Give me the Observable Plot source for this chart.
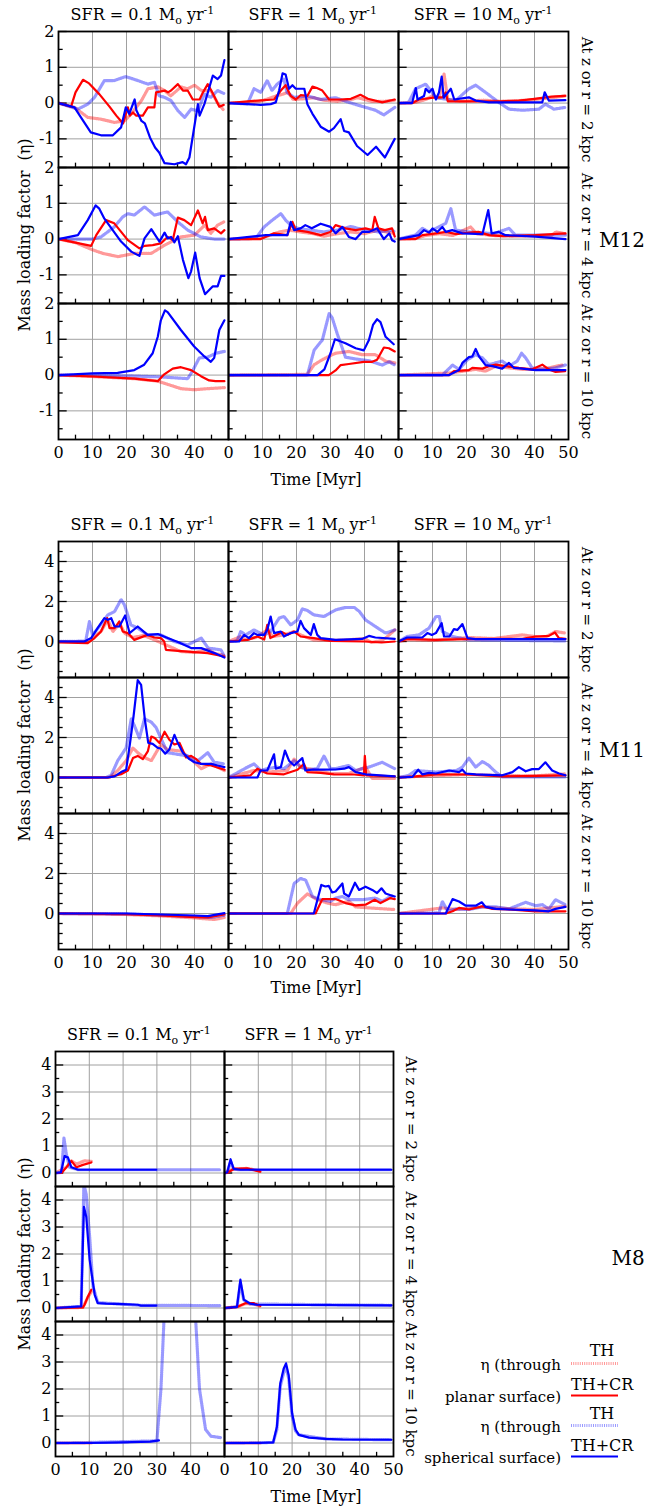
<!DOCTYPE html>
<html><head><meta charset="utf-8">
<script src="https://cdn.jsdelivr.net/npm/d3@7"></script>
<script src="https://cdn.jsdelivr.net/npm/@observablehq/plot@0.6"></script>
<style>
html,body{margin:0;padding:0;background:#fff;}
#chart{position:relative;width:670px;height:1509px;font-family:"DejaVu Serif",serif;color:#000;overflow:hidden;}
.abs{position:absolute;white-space:nowrap;font-size:16px;line-height:16px;transform:translate(-50%,-50%);}
.big{font-size:20px;line-height:20px;}
.ylab{transform:translate(-50%,-50%) rotate(-90deg);}
sub,sup{font-size:11px;line-height:0;}
</style>
</head><body><div id="chart"></div>
<script>
// ---------------- DATA ----------------
const SERIES = ["TH planar", "TH+CR planar", "TH spherical", "TH+CR spherical"];
const SFR_LABELS = ["0.1", "1", "10"];
const ROW_LABELS = ["At z or r = 2 kpc", "At z or r = 4 kpc", "At z or r = 10 kpc"];
const X_TICKS = [0, 10, 20, 30, 40];
const X_GRID = [10, 20, 30, 40];
const X_MINOR = [5, 15, 25, 35, 45];

// ===== M12 =====
const m12_r2_s01_thP = [[0,0],[4.7,-0.12],[8.6,-0.4],[12.5,-0.45],[16.4,-0.54],[19.4,-0.5],[21.4,-0.3],[24.4,0.07],[26.3,0.4],[29.3,0.45],[31.2,0.35],[33,0.2],[36,0.45],[38,0.4],[40,0.5],[42,0.35],[44.8,0.35],[46.8,0],[48.6,-0.2]];
const m12_r2_s01_crP = [[0,0],[3.7,-0.1],[5,0.3],[7.2,0.65],[9,0.55],[12,0.25],[15,-0.1],[17,-0.35],[19,-0.57],[20.4,-0.12],[21,-0.35],[21.9,-0.26],[22.8,-0.35],[24.8,-0.35],[26.3,-0.12],[28.2,-0.12],[28.7,0.3],[31.2,0.35],[32.2,0.3],[33.1,0.35],[35.1,0.53],[36.6,0.35],[38,0.35],[39.5,0.1],[41.5,0.1],[42.5,0.3],[43.9,0.53],[45.4,0.27],[47.3,-0.1],[48.6,-0.05]];
const m12_r2_s01_thS = [[0,0],[5.7,-0.17],[8.6,-0.03],[10.6,0.16],[13.5,0.63],[16.4,0.63],[19.8,0.74],[23.3,0.63],[26.3,0.53],[28.2,0.58],[29.6,0.2],[31.2,0.16],[33.1,0.07],[35.1,-0.21],[37.1,-0.4],[39,-0.17],[41,-0.22],[42.9,0.25],[44.8,0.16],[46.8,0.35],[48.6,0.27]];
const m12_r2_s01_crS = [[0,0],[4.7,-0.12],[6.6,-0.4],[9.5,-0.82],[12.5,-0.9],[16,-0.9],[18.4,-0.68],[19.8,-0.12],[20.8,-0.3],[22.4,0.1],[22.9,-0.2],[24.4,-0.5],[25.4,-0.57],[26.9,-0.96],[28.4,-1.24],[29.6,-1.38],[31.2,-1.68],[34.1,-1.71],[36.5,-1.65],[37.5,-1.71],[38.5,-1.52],[41,-0.03],[41.5,-0.35],[42.9,-0.03],[45.4,0.77],[46.8,0.67],[47.8,0.77],[48.8,1.2]];
const m12_r2_s1_thP = [[0,0],[8,0.02],[11,0.1],[14,0.2],[16,0.25],[17.5,0.3],[19,0.1],[22,0.12],[25,0.15],[28,0.08],[32,0.05],[36,0.1],[38,0.15],[42,0.05],[46,0.05],[48.9,0.08]];
const m12_r2_s1_crP = [[0,0],[5.6,0.05],[13.4,0.1],[15.4,0.35],[16.8,0.5],[18.3,0.2],[19.8,0.1],[21.2,0.22],[23.2,0.2],[24.7,0.46],[26,0.42],[27.6,0.35],[29.6,0.1],[33,0.1],[36,0.12],[38.8,0.23],[41,0.12],[45.2,0.02],[48.9,0.1]];
const m12_r2_s1_thS = [[0,0],[5.6,-0.02],[7.5,0.4],[9.5,0.3],[11.4,0.63],[12.8,0.35],[14.3,0.53],[16.3,0.67],[17.2,0.3],[19.3,0.16],[23.2,0.2],[27.1,0.1],[31.5,0.15],[35.4,0.02],[37.4,-0.04],[43.2,-0.2],[45.7,-0.33],[48.9,-0.12]];
const m12_r2_s1_crS = [[0,0],[9.5,-0.05],[12.4,-0.03],[13.9,0.02],[14.9,0.36],[15.9,0.83],[16.8,0.8],[17.8,0.4],[18.8,0.5],[19.8,0.4],[22.3,0.4],[23.2,-0.03],[24.7,-0.3],[27.1,-0.66],[29.6,-0.8],[31,-0.7],[33,-0.45],[34,-0.78],[35.4,-0.82],[37.8,-1.2],[40.9,-1.45],[43.4,-1.22],[46,-1.52],[48.9,-1.0]];
const m12_r2_s10_thP = [[0,0],[5,0.02],[8,0.1],[10,0.2],[12,0.15],[13.4,0.81],[14.5,0.1],[18,0.05],[25,0.08],[30,0.05],[38,0.08],[45,0.15],[49,0.2]];
const m12_r2_s10_crP = [[0,0],[4.1,0],[6,0.1],[11,0.16],[12.9,0.16],[13.9,0.3],[14.5,0.05],[20,0.05],[30,0.05],[35.4,0.07],[40,0.12],[45,0.18],[49,0.2]];
const m12_r2_s10_thS = [[0,0],[3,0.02],[5,0.4],[8,0.53],[11,0.15],[16.8,0.07],[20.7,0.4],[22.7,0.5],[25.6,0.3],[29.5,0.02],[32.5,-0.17],[36.4,-0.2],[41.3,-0.17],[43.2,-0.03],[45.7,-0.17],[49.1,-0.12]];
const m12_r2_s10_crS = [[0,0],[4,0],[5.1,0.42],[5.6,0.1],[7.5,0.2],[8,0.4],[9,0.3],[10,0.4],[11,0.1],[11.9,0.3],[12.7,0.74],[13.3,0.15],[15.4,0.4],[16.4,0.1],[20.7,0.16],[22.7,0.07],[26.6,0.02],[42.3,0.02],[43,0.3],[44.2,0.07],[49.1,0.08]];
const m12_r4_s01_thP = [[0,0],[5,-0.1],[10,-0.3],[13,-0.4],[17.5,-0.49],[22.4,-0.4],[27.3,-0.4],[31.2,-0.17],[36,0.06],[40,0.11],[43,0.39],[44.8,0.16],[46.8,0.39],[48.6,0.48]];
const m12_r4_s01_crP = [[0,0],[9.6,-0.19],[11.1,0.11],[14,0.53],[16.4,0.44],[20.4,-0.03],[23.8,-0.26],[25.3,-0.19],[27.7,-0.17],[30.1,-0.12],[32.1,0.06],[33.6,-0.03],[35.1,0.6],[37,0.53],[39,0.39],[41,0.8],[42.4,0.44],[43.1,0.62],[43.9,0.25],[45.8,0.3],[47.8,0.16],[48.8,0.25]];
const m12_r4_s01_thS = [[0,0],[10,0],[12.5,0.06],[16.4,0.34],[18.9,0.62],[20.4,0.71],[22.3,0.67],[25.3,0.9],[28.2,0.67],[32.1,0.76],[35.1,0.48],[38,0.25],[41.9,0.06],[45.8,0],[48.8,0]];
const m12_r4_s01_crS = [[0,0],[5.7,0.11],[8.6,0.53],[10.9,0.94],[12,0.85],[13.5,0.57],[18.4,-0.07],[21.4,-0.35],[23.8,-0.47],[25.3,0.02],[27.3,0.28],[29.7,-0.07],[31.2,0.18],[32.1,0.02],[33.1,0.06],[34.1,-0.09],[35.1,0.08],[36.6,-0.58],[38.2,-1.09],[39,-0.9],[40.2,-0.38],[41.5,-1.09],[43.1,-1.54],[45.4,-1.32],[46.8,-1.32],[47.8,-1.03],[48.8,-1.03]];
const m12_r4_s1_thP = [[0,0],[9,0.02],[12,0.1],[15,0.2],[18,0.25],[21,0.2],[25,0.15],[28,0.08],[32,0.15],[36,0.2],[40,0.15],[44,0.25],[48.9,0.15]];
const m12_r4_s1_crP = [[0,0],[9.5,0],[13.4,0.16],[17.3,0.11],[18.8,0.48],[19.8,0.25],[23.2,0.2],[27.1,0.11],[30,0.2],[31.5,0.39],[34.4,0.3],[37.4,0.25],[40.3,0.3],[42.3,0.25],[43,0.62],[44.1,0.3],[46,0.25],[48.1,0.3],[48.9,0.07]];
const m12_r4_s1_thS = [[0,0],[8,0.02],[10.5,0.34],[12.9,0.53],[15.4,0.71],[16.8,0.53],[18.3,0.39],[20.3,0.3],[24,0.25],[28,0.2],[32,0.25],[36,0.35],[38,0.3],[41,0.25],[44,0.2],[48.1,0.25],[48.9,0.2]];
const m12_r4_s1_crS = [[0,0],[11,0.11],[17.3,0.11],[18.3,0.48],[19.3,0.25],[21.2,0.3],[22.6,0.39],[24.5,0.3],[27.1,0.43],[30,0.34],[31.5,0.16],[33.5,0.34],[35.4,0.06],[37.4,0],[39.3,0.2],[41.3,0.2],[43.7,0.3],[45.7,0],[47.3,0.16],[48.1,-0.03],[48.9,-0.07]];
const m12_r4_s10_thP = [[0,0],[5,0.02],[8,0.1],[12,0.15],[16,0.1],[21.2,0.34],[23,0.15],[28,0.1],[35,0.08],[45,0.1],[46.3,0.2],[49,0.15]];
const m12_r4_s10_crP = [[0,0],[5,0],[7,0.11],[11,0.16],[14,0.2],[17,0.14],[20.7,0.18],[23.5,0.2],[26.6,0.11],[30.5,0.08],[40.3,0.11],[49.1,0.16]];
const m12_r4_s10_thS = [[0,0],[5,0.11],[7,0.3],[9,0.2],[11,0.3],[13.9,0.44],[15.4,0.85],[16.8,0.25],[20.7,0.2],[28,0.15],[32.5,0.3],[34.4,0.11],[40,0.11],[49.1,0.11]];
const m12_r4_s10_crS = [[0,0],[6,0.11],[7.5,0.25],[9,0.18],[10,0.3],[11.4,0.2],[12.9,0.34],[13.9,0.2],[15.8,0.25],[18.8,0.16],[24.7,0.14],[26.4,0.81],[27.4,0.16],[29.5,0.2],[31.5,0.11],[40.3,0.07],[49.1,0]];
const m12_r10_s01_thP = [[0,0],[10,-0.04],[22.3,-0.1],[29.2,-0.17],[32.1,-0.26],[36,-0.38],[39.9,-0.41],[43.8,-0.38],[48.8,-0.35]];
const m12_r10_s01_crP = [[0,0],[10,-0.04],[22.3,-0.1],[29.2,-0.17],[31.1,0.02],[33.6,0.18],[36,0.22],[39,0.14],[41.9,-0.03],[44.3,-0.15],[46.2,-0.17],[48.8,-0.17]];
const m12_r10_s01_thS = [[0,0],[20,-0.02],[30,-0.05],[38,-0.1],[39.4,0.11],[41.4,0.48],[43.8,0.5],[46.3,0.61],[48.8,0.66]];
const m12_r10_s01_crS = [[0,0],[10,0.05],[17.4,0.06],[22.3,0.14],[25.2,0.29],[27.7,0.61],[29.2,1.07],[30.1,1.53],[31.3,1.81],[32.1,1.76],[36,1.26],[39.9,0.8],[42.9,0.52],[44.8,0.37],[45.8,0.48],[47.3,1.26],[48.8,1.53]];
const m12_r10_s1_thP = [[0,0],[23.2,0.02],[25.2,0.29],[27.6,0.43],[30.5,0.57],[31.5,0.61],[35.4,0.66],[39.3,0.57],[43.2,0.57],[46.2,0.39],[48.9,0.34]];
const m12_r10_s1_crP = [[0,0],[29.5,0],[31.5,0.13],[33,0.28],[35.4,0.31],[39.8,0.37],[42.3,0.37],[43.7,0.43],[45.7,0.77],[47.2,0.75],[48.9,0.66]];
const m12_r10_s1_thS = [[0,0],[23.2,0],[25.2,0.7],[27.6,0.98],[29.6,1.72],[30.5,1.6],[32,1.15],[34.4,0.5],[37.4,0.45],[41.3,0.4],[45.2,0.28],[47.3,0.37],[48.9,0.28]];
const m12_r10_s1_crS = [[0,0],[26.2,0],[28.2,0.16],[30,0.61],[31.3,1.0],[34.4,0.89],[37.4,0.75],[39.8,0.69],[41.3,0.98],[42.5,1.4],[43.7,1.56],[44.7,1.48],[46.2,1.07],[48.6,0.86]];
const m12_r10_s10_thP = [[0,0],[15.4,0.06],[22.7,0.16],[25.6,0.11],[28.6,0.25],[32.5,0.2],[36.4,0.16],[40.3,0.16],[44.2,0.2],[48.1,0.28]];
const m12_r10_s10_crP = [[0,0],[14.9,0],[16.3,0.11],[20.7,0.14],[21.7,0.2],[24.7,0.18],[26.6,0.25],[28.6,0.29],[31.5,0.25],[35.4,0.2],[39.3,0.16],[42.3,0.29],[44.2,0.16],[46.2,0.09],[49,0.11]];
const m12_r10_s10_thS = [[0,0],[12.9,0],[15.9,0.28],[17.8,0.16],[20.3,0.43],[22.7,0.57],[24.7,0.48],[26.6,0.29],[30.5,0.39],[32.5,0.25],[34.9,0.39],[36.2,0.61],[37.4,0.48],[39.3,0.2],[42.3,0.16],[46.2,0.2],[49.1,0.28]];
const m12_r10_s10_crS = [[0,0],[14.9,0],[17.8,0.14],[18.8,0.34],[20.7,0.5],[21.7,0.52],[22.7,0.73],[23.7,0.52],[25.6,0.28],[27.6,0.25],[30.5,0.18],[32.5,0.34],[34,0.2],[36.4,0.18],[40.3,0.14],[49.1,0.14]];

// ===== M11 =====
const m11_r2_s01_thP = [[0,0],[8,0],[9.5,0.1],[11,0.3],[12.5,0.5],[14.5,1.1],[16,0.5],[18,0.9],[19.5,0.4],[22,0.2],[25,0.3],[28,0.1],[32,-0.2],[36,-0.5],[40,-0.55],[44,-0.4],[46,-0.6],[48.8,-0.7]];
const m11_r2_s01_crP = [[0,-0.05],[8.6,-0.08],[10.6,0.17],[12.5,0.5],[14.3,1.17],[15,0.67],[16.5,0.67],[17.9,1.0],[18.9,0.5],[20.4,0.42],[22.3,0.08],[26.2,0.33],[28.2,0.2],[30.1,0.17],[31.1,0],[31.6,-0.42],[35.1,-0.47],[40,-0.53],[43.9,-0.58],[48.8,-0.75]];
const m11_r2_s01_thS = [[0,0],[8,0.02],[9.1,1.0],[10,0.33],[12,0.75],[14.5,1.33],[16.5,1.5],[18.4,2.1],[19.4,1.83],[21.3,0.83],[23.3,0.67],[26.2,0.33],[30.1,0.33],[34,0],[38,-0.17],[42,0.17],[44,-0.33],[47.8,-0.42],[48.8,-0.75]];
const m11_r2_s01_crS = [[0,0],[7.6,0],[9.6,0.17],[11.5,0.67],[13.5,1.17],[14.5,1.08],[15.5,1.17],[16.5,0.75],[17.9,0.75],[19.6,1.3],[20.9,0.42],[23.3,0.75],[26.2,0.33],[29.2,0.37],[32.1,0.17],[35.1,-0.03],[39,-0.33],[42,-0.33],[45.9,-0.58],[48.8,-0.8]];
const m11_r2_s1_thP = [[0,0],[3.6,0.25],[5,0.1],[8,0.2],[11.4,0.58],[13,0.25],[16.3,0.33],[19.3,0.5],[21.2,0.33],[25,0.08],[30,0.05],[35,0.08],[40,0.15],[42,-0.05],[45,0.05],[46.2,0.17],[48.9,0.58]];
const m11_r2_s1_crP = [[0,0],[5.6,0.08],[8.5,0.25],[10.5,0.1],[11.4,0.83],[12.3,0.17],[15.8,0.47],[17.3,0.33],[19.3,0.5],[21.2,0.25],[25.1,0.17],[30,0.03],[40,0],[45,-0.05],[48.9,0]];
const m11_r2_s1_thS = [[0,0],[2.5,0.02],[3.6,0.5],[5,0.33],[7.5,0.58],[10.5,0.33],[12.4,0.5],[14.9,1.17],[16.3,1.25],[18.3,0.83],[20.3,1.08],[21.7,1.63],[23.2,1.55],[25.1,1.33],[28.1,1.25],[31.5,1.58],[34.4,1.7],[37,1.7],[38.5,1.5],[40.3,1.08],[43.2,0.75],[46.2,0.42],[48.9,0.58]];
const m11_r2_s1_crS = [[0,0],[3.1,0],[4.6,0.33],[6,0.17],[7.5,0.42],[8.5,0.33],[10.5,0.33],[11.4,0.58],[12.4,1.25],[13.4,0.42],[15.4,0.5],[16.3,0.25],[18.3,0.42],[20.3,0.5],[21.2,1.03],[22.2,0.67],[24.2,0.33],[25.1,0.87],[26.1,0.33],[27.1,0.17],[31.5,0.08],[39.3,0.13],[41.3,0.28],[43.2,0.2],[48.9,0.13]];
const m11_r2_s10_thP = [[0,0],[3,0.1],[10,0.05],[20.7,0.2],[28,0.15],[36.4,0.33],[40,0.25],[43,0.2],[46.2,0.5],[49.1,0.42]];
const m11_r2_s10_crP = [[0,0],[2.5,0.13],[11,0.08],[20.7,0.12],[36.4,0.13],[40.3,0.25],[44.2,0.28],[46,0.45],[47.2,0.17],[49.1,0.13]];
const m11_r2_s10_thS = [[0,0],[2.5,0.25],[6,0.33],[9,0.67],[11,1.25],[12,1.25],[12.9,0.5],[15.9,0.25],[20.7,0.08],[49.1,0.03]];
const m11_r2_s10_crS = [[0,0],[2.5,0.2],[7,0.2],[8.5,0.42],[9.8,0.33],[11,0.42],[12.7,0.92],[13.4,0.25],[15,0.25],[16.3,0.62],[17.3,0.58],[18.8,0.87],[20.3,0.17],[22.7,0.12],[49.1,0.12]];
const m11_r4_s01_thP = [[0,0],[15,0],[17.4,0.35],[19.9,0.84],[21.9,1.48],[23.3,1.24],[25.3,1.0],[27.3,0.84],[30.1,1.65],[32.1,1.4],[36,1.32],[39,0.92],[42,0.44],[44.9,0.68],[48.8,0.35]];
const m11_r4_s01_crP = [[0,0],[14.5,0],[18.4,0.16],[20.4,0.35],[21.9,0.97],[23.3,1.08],[24.8,0.92],[26.3,1.32],[27.3,2.05],[28.3,1.97],[29.7,1.73],[31.2,2.29],[32.6,1.89],[34.1,1.65],[35.6,1.73],[37.5,1.0],[39,1.08],[40.5,0.92],[41.9,0.68],[44.9,0.6],[48.8,0.39]];
const m11_r4_s01_thS = [[0,0],[14,0],[15.5,0.11],[17.4,0.84],[19.9,1.48],[21.4,2.94],[22.3,2.6],[23.8,1.97],[25.3,2.94],[27.3,2.77],[28.7,2.5],[30.1,1.97],[32.1,1.24],[35,1.16],[38,1.08],[41,0.84],[43.9,1.24],[45.8,0.76],[48.8,0.68]];
const m11_r4_s01_crS = [[0,0],[14.5,0],[16.5,0.06],[18.4,0.27],[19.9,0.39],[21.1,1.8],[22.1,3.1],[23.3,4.87],[24.3,4.63],[25.4,2.9],[26.4,1.73],[27.7,1.68],[29.2,1.48],[30.1,1.45],[31.4,1.19],[32.6,1.4],[34.1,2.13],[35.1,1.73],[36.6,1.24],[38.5,0.92],[40,0.76],[42,0.68],[44.9,0.68],[46.8,0.6],[48.8,0.52]];
const m11_r4_s1_thP = [[0,0],[7.5,0.35],[11.4,0.27],[17.3,0.35],[19.3,0.92],[21.2,0.52],[26.1,0.35],[30,0.2],[35.4,0.2],[40.3,0.52],[42.3,-0.05],[48.9,-0.05]];
const m11_r4_s1_crP = [[0,0],[6.5,0.11],[8.5,0.44],[11.4,0.2],[16.3,0.16],[20.3,0.39],[22.2,0.68],[23.2,0.27],[27.1,0.23],[31,0.16],[37,0.15],[39.8,0.11],[40.1,1.08],[40.5,0.11],[48.9,0.06]];
const m11_r4_s1_thS = [[0,0],[5.6,0.52],[7.5,0.68],[9.5,0.35],[11.4,0.44],[14.3,0.52],[16.3,0.44],[19.3,0.84],[21.2,0.52],[23.2,0.39],[26.1,0.44],[28.1,1.08],[30,0.44],[31.5,0.44],[35.4,0.6],[37.4,0.35],[41.3,0.52],[45.2,0.76],[48.9,0.44]];
const m11_r4_s1_crS = [[0,0],[8.5,0],[9.4,0.35],[11.4,0.35],[13.4,1.16],[13.9,0.44],[15.4,0.52],[16.6,1.35],[17.8,0.84],[19.3,0.6],[21.7,0.97],[22.6,0.35],[25.1,0.4],[28.1,0.39],[31.5,0.4],[34,0.44],[35.4,0.52],[37.4,0.27],[40.3,0.16],[48.9,0.06]];
const m11_r4_s10_thP = [[0,0],[5,0.05],[12,0.1],[20,0.15],[30,0.1],[40,0.08],[49.1,0.18]];
const m11_r4_s10_crP = [[0,0],[5,0.06],[11,0.16],[20.7,0.15],[30.5,0.06],[40,0.08],[49.1,0.11]];
const m11_r4_s10_thS = [[0,0],[3,0.1],[5,0.35],[11,0.27],[17,0.35],[18.8,0.52],[20.7,0.97],[22.7,0.52],[24.7,0.8],[26.6,0.6],[28.6,0.27],[30.5,0.03],[49.1,0.03]];
const m11_r4_s10_crS = [[0,0],[4.1,0.03],[5.8,0.39],[7,0.16],[9,0.23],[11,0.2],[14.9,0.35],[17.8,0.27],[18.8,0.39],[19.8,0.2],[22.7,0.16],[30.5,0.11],[33.5,0.27],[35.4,0.52],[37.4,0.31],[39.3,0.42],[41.3,0.42],[43.2,0.76],[45.2,0.35],[47.2,0.2],[49.1,0.11]];
const m11_r10_s01_thP = [[0,0],[20,-0.05],[30,-0.12],[40,-0.22],[45.8,-0.3],[48.8,-0.2]];
const m11_r10_s01_crP = [[0,0],[20,-0.03],[30,-0.1],[40,-0.18],[43.9,-0.2],[48.8,-0.05]];
const m11_r10_s01_thS = [[0,0],[20,-0.02],[30,-0.08],[40,-0.15],[44.8,-0.2],[48.8,-0.08]];
const m11_r10_s01_crS = [[0,0],[20,0],[30,-0.05],[40,-0.1],[43.9,-0.13],[48.8,0.02]];
const m11_r10_s1_thP = [[0,0],[18.3,0],[20.3,0.52],[23.2,0.98],[26.1,0.69],[29.1,0.52],[31.5,0.44],[35.4,0.61],[37.4,0.33],[41.3,0.28],[48.9,0.2]];
const m11_r10_s1_crP = [[0,0],[25.6,0],[27.6,0.72],[31.5,0.72],[34.4,0.52],[37.4,0.41],[40.3,0.44],[43,0.69],[44.7,0.52],[47.6,0.77],[48.9,0.72]];
const m11_r10_s1_thS = [[0,0],[17.3,0],[19.3,1.5],[21.2,1.75],[22.7,1.67],[24.7,0.85],[27.1,0.69],[30,0.61],[31.5,0.77],[33.5,0.85],[35.4,0.69],[39.3,0.69],[43.2,0.77],[45.2,0.61],[48.1,0.89]];
const m11_r10_s1_crS = [[0,0],[25.1,0],[27.3,1.43],[28.5,1.35],[29.5,1.38],[30.5,1.05],[31.5,1.1],[33.5,1.5],[34,1.0],[35.4,0.85],[37.2,1.54],[38.4,1.18],[40.3,1.34],[42.3,1.18],[43.7,1.02],[45,1.26],[46.2,1.0],[48.1,0.89],[48.9,0.85]];
const m11_r10_s10_thP = [[0,0],[12.9,0.28],[16.8,0.2],[24.7,0.33],[28.6,0.28],[34.4,0.23],[40,0.2],[49.1,0.36]];
const m11_r10_s10_crP = [[0,0],[13.9,0],[15.9,0.11],[17.8,0.28],[20.7,0.2],[24.7,0.36],[27.6,0.23],[32.5,0.2],[40.3,0.11],[49.1,0.11]];
const m11_r10_s10_thS = [[0,0],[11.9,0.03],[12.9,0.6],[14.5,0.11],[16.8,0.23],[20.7,0.2],[24.7,0.33],[28.6,0.33],[32.5,0.23],[37.4,0.56],[40.3,0.39],[42.3,0.44],[44.2,0.23],[46.2,0.69],[49.1,0.44]];
const m11_r10_s10_crS = [[0,0],[13.9,0],[15.9,0.72],[17.8,0.6],[19.8,0.39],[22.7,0.39],[24.5,0.56],[25.6,0.33],[28.6,0.23],[32.5,0.2],[40.3,0.16],[44.2,0.11],[46.2,0.23],[49.1,0.33]];

// ===== M8 =====
const m8_r2_s01_thP = [[0,0],[3.2,0.21],[4.7,0.45],[6.2,0.33],[8.5,0.45],[10.6,0.43]];
const m8_r2_s01_crP = [[0,0],[1.8,0],[3.2,0.21],[4.7,0.45],[6.2,0.21],[8.1,0.3],[10.6,0.39]];
const m8_r2_s01_thS = [[0,0],[1.8,0.02],[2.5,1.3],[3.2,0.7],[4.2,0.21],[6.7,0.12],[48.8,0.12]];
const m8_r2_s01_crS = [[0,0],[1.6,0.02],[2.7,0.63],[3.7,0.57],[4.7,0.21],[6.7,0.12],[29.8,0.12]];
const m8_r2_s1_thP = [[0,0],[2.7,0.15],[6.7,0.17],[9.6,0.1],[10.6,0.06]];
const m8_r2_s1_crP = [[0,0],[0.8,0],[2.7,0.15],[6.7,0.17],[9.6,0.08],[10.6,0.05]];
const m8_r2_s1_thS = [[0,0],[0.8,0.02],[1.8,0.42],[2.7,0.14],[4.7,0.12],[49.4,0.12]];
const m8_r2_s1_crS = [[0,0],[0.8,0.02],[1.8,0.51],[2.7,0.15],[4.7,0.12],[49.4,0.12]];
const m8_r4_s01_thP = [[0,0],[8.1,0.02],[9.6,0.4],[10.6,0.6]];
const m8_r4_s01_crP = [[0,0],[8.1,0.02],[8.6,0.12],[9.6,0.43],[10.6,0.68]];
const m8_r4_s01_thS = [[0,0],[7.6,0.06],[8.4,4.6],[9.1,4.2],[10.1,2.65],[11.1,0.8],[12.5,0.2],[20,0.14],[25,0.1],[48.8,0.09]];
const m8_r4_s01_crS = [[0,0],[7.6,0.06],[8.4,3.75],[9.1,3.38],[10.1,1.78],[11.6,0.49],[12.5,0.18],[15,0.16],[20,0.14],[24.3,0.12],[25.3,0.09],[29.8,0.09]];
const m8_r4_s1_thP = [[0,0],[3.7,0.04],[6.2,0.16],[8.6,0.15],[10.6,0.06]];
const m8_r4_s1_crP = [[0,0],[3.7,0.04],[6.2,0.18],[8.6,0.18],[10.6,0.08]];
const m8_r4_s1_thS = [[0,0],[3.7,0.04],[4.7,0.9],[5.7,0.3],[7.6,0.15],[49.4,0.1]];
const m8_r4_s1_crS = [[0,0],[3.7,0.04],[4.7,1.05],[5.7,0.31],[7.6,0.16],[9.6,0.12],[49.4,0.1]];
const m8_r10_s01_thP = [[0,0],[10.6,0]];
const m8_r10_s01_crP = [[0,0],[10.6,0]];
const m8_r10_s01_thS = [[0,0],[10,0.02],[20,0.05],[30,0.08],[31.2,2.0],[32.6,6],[40,6],[41.5,4.5],[42.6,2],[44.4,0.5],[46,0.25],[48.8,0.2]];
const m8_r10_s01_crS = [[0,0],[10,0],[20,0.02],[28,0.05],[30.6,0.1]];
const m8_r10_s1_thP = [[0,0],[10.6,0]];
const m8_r10_s1_crP = [[0,0],[10.6,0]];
const m8_r10_s1_thS = [[0,0],[14.4,0.02],[15.5,0.5],[16.5,2.1],[17.5,2.6],[18.2,2.8],[19,2.4],[20,1.0],[21,0.45],[22,0.3],[30,0.15],[49.4,0.12]];
const m8_r10_s1_crS = [[0,0],[10,0],[14.4,0.02],[15.5,0.6],[16.5,2.2],[17.5,2.75],[18.2,2.95],[19,2.5],[20,1.1],[21,0.5],[22,0.3],[25,0.2],[30,0.15],[35,0.13],[49.4,0.12]];

// panels: [row, col, TH planar, TH+CR planar, TH spherical, TH+CR spherical]
const m12Panels = [
  [0,0,m12_r2_s01_thP,m12_r2_s01_crP,m12_r2_s01_thS,m12_r2_s01_crS],
  [0,1,m12_r2_s1_thP,m12_r2_s1_crP,m12_r2_s1_thS,m12_r2_s1_crS],
  [0,2,m12_r2_s10_thP,m12_r2_s10_crP,m12_r2_s10_thS,m12_r2_s10_crS],
  [1,0,m12_r4_s01_thP,m12_r4_s01_crP,m12_r4_s01_thS,m12_r4_s01_crS],
  [1,1,m12_r4_s1_thP,m12_r4_s1_crP,m12_r4_s1_thS,m12_r4_s1_crS],
  [1,2,m12_r4_s10_thP,m12_r4_s10_crP,m12_r4_s10_thS,m12_r4_s10_crS],
  [2,0,m12_r10_s01_thP,m12_r10_s01_crP,m12_r10_s01_thS,m12_r10_s01_crS],
  [2,1,m12_r10_s1_thP,m12_r10_s1_crP,m12_r10_s1_thS,m12_r10_s1_crS],
  [2,2,m12_r10_s10_thP,m12_r10_s10_crP,m12_r10_s10_thS,m12_r10_s10_crS]
];
const m11Panels = [
  [0,0,m11_r2_s01_thP,m11_r2_s01_crP,m11_r2_s01_thS,m11_r2_s01_crS],
  [0,1,m11_r2_s1_thP,m11_r2_s1_crP,m11_r2_s1_thS,m11_r2_s1_crS],
  [0,2,m11_r2_s10_thP,m11_r2_s10_crP,m11_r2_s10_thS,m11_r2_s10_crS],
  [1,0,m11_r4_s01_thP,m11_r4_s01_crP,m11_r4_s01_thS,m11_r4_s01_crS],
  [1,1,m11_r4_s1_thP,m11_r4_s1_crP,m11_r4_s1_thS,m11_r4_s1_crS],
  [1,2,m11_r4_s10_thP,m11_r4_s10_crP,m11_r4_s10_thS,m11_r4_s10_crS],
  [2,0,m11_r10_s01_thP,m11_r10_s01_crP,m11_r10_s01_thS,m11_r10_s01_crS],
  [2,1,m11_r10_s1_thP,m11_r10_s1_crP,m11_r10_s1_thS,m11_r10_s1_crS],
  [2,2,m11_r10_s10_thP,m11_r10_s10_crP,m11_r10_s10_thS,m11_r10_s10_crS]
];
const m8Panels = [
  [0,0,m8_r2_s01_thP,m8_r2_s01_crP,m8_r2_s01_thS,m8_r2_s01_crS],
  [0,1,m8_r2_s1_thP,m8_r2_s1_crP,m8_r2_s1_thS,m8_r2_s1_crS],
  [1,0,m8_r4_s01_thP,m8_r4_s01_crP,m8_r4_s01_thS,m8_r4_s01_crS],
  [1,1,m8_r4_s1_thP,m8_r4_s1_crP,m8_r4_s1_thS,m8_r4_s1_crS],
  [2,0,m8_r10_s01_thP,m8_r10_s01_crP,m8_r10_s01_thS,m8_r10_s01_crS],
  [2,1,m8_r10_s1_thP,m8_r10_s1_crP,m8_r10_s1_thS,m8_r10_s1_crS]
];

// ---------------- STYLE / LAYOUT ----------------
const STYLE = {
  "TH planar":       {stroke: "#ff0000", strokeOpacity: 0.4, strokeWidth: 3.2, strokeDasharray: "1 1.2"},
  "TH+CR planar":    {stroke: "#ff0000", strokeWidth: 2.2},
  "TH spherical":    {stroke: "#0000ff", strokeOpacity: 0.4, strokeWidth: 3.2, strokeDasharray: "1 1.2"},
  "TH+CR spherical": {stroke: "#0000ff", strokeWidth: 2.2}
};
const DRAW_ORDER = ["TH planar", "TH spherical", "TH+CR planar", "TH+CR spherical"];
const FONT = '"DejaVu Serif", serif';

const GROUPS = [
  {name: "M12", panels: m12Panels, cols: [0,1,2], top: 0, mt: 30, ph: 410/3, mb: 32, ml: 57.3, mr: 101.7,
   yDomain: [-1.8, 2], yTicks: [-1,0,1,2], yGrid: [-1,0,1], yMinor: [-1.5,-0.5,0.5,1.5], rowDx: 18,
   titleY: 15, timeY: 480, ylabY: 235, nameX: 622, nameY: 240},
  {name: "M11", panels: m11Panels, cols: [0,1,2], top: 510, mt: 30, ph: 410/3, mb: 32, ml: 57.3, mr: 101.7,
   yDomain: [-1.8, 5], yTicks: [0,2,4], yGrid: [0,2,4], yMinor: [-1.5,-1,-0.5,0.5,1,1.5,2.5,3,3.5,4.5], rowDx: 18,
   titleY: 525, timeY: 988, ylabY: 745, nameX: 622, nameY: 750},
  {name: "M8", panels: m8Panels, cols: [0,1], top: 1020, mt: 30, ph: 407.5/3, mb: 32, ml: 54, mr: 276.5,
   yDomain: [-0.5, 4.5], yTicks: [0,1,2,3,4], yGrid: [0,1,2,3,4], yMinor: [0.5,1.5,2.5,3.5], rowDx: 17,
   titleY: 1035, timeY: 1497, ylabY: 1254, nameX: 628, nameY: 1258}
];

function buildTable(panels) {
  const out = [];
  for (const [row, col, ...series] of panels)
    series.forEach((arr, si) => arr.forEach(([t, v]) => out.push({row, col, s: SERIES[si], t, v})));
  return out;
}

const chart = document.getElementById("chart");

function addDiv(html, x, y, cls) {
  const d = document.createElement("div");
  d.className = "abs" + (cls ? " " + cls : "");
  d.innerHTML = html;
  d.style.left = x + "px";
  d.style.top = y + "px";
  chart.appendChild(d);
  return d;
}

for (const g of GROUPS) {
  const nc = g.cols.length;
  const pw = (670 - g.ml - g.mr) / nc;
  const H = g.mt + 3 * g.ph + g.mb;
  const data = buildTable(g.panels);
  const last = g.cols[nc - 1];
  const svg = Plot.plot({
    width: 670, height: H,
    marginTop: g.mt, marginBottom: g.mb, marginLeft: g.ml, marginRight: g.mr,
    style: {fontFamily: FONT, fontSize: "16px", background: "none", overflow: "visible"},
    x: {domain: [0, 50]},
    y: {domain: g.yDomain},
    fx: {domain: g.cols, padding: 0, axis: null},
    fy: {domain: [0, 1, 2], padding: 0, axis: null},
    marks: [
      Plot.gridX(X_GRID, {stroke: "#a0a0a0", strokeOpacity: 1, strokeWidth: 1}),
      Plot.gridY(g.yGrid, {stroke: "#a0a0a0", strokeOpacity: 1, strokeWidth: 1}),
      Plot.ruleX(X_MINOR, {stroke: "#000", strokeWidth: 1.3, insetTop: g.ph - 5}),
      Plot.ruleY(g.yMinor, {stroke: "#000", strokeWidth: 1.3, insetRight: pw - 5}),
      Plot.ruleY(g.yTicks, {stroke: "#000", strokeWidth: 1.3, insetRight: pw - 9}),
      ...DRAW_ORDER.map(s => Plot.line(data.filter(d => d.s === s), {
        x: "t", y: "v", fx: "col", fy: "row", ...STYLE[s], clip: true, strokeLinejoin: "round"
      })),
      Plot.frame({stroke: "#000", strokeWidth: 1.8}),
      Plot.axisY(g.yTicks, {tickSize: 0, tickPadding: 4, tickFormat: d => String(d), fontSize: 16, label: null}),
      Plot.axisX(X_TICKS, {tickSize: 0, tickPadding: 7, tickFormat: d => String(d), fontSize: 16, label: null}),
      Plot.text([{col: last, row: 2, t: 50}], {fx: "col", fy: "row", x: "t", text: d => String(d.t),
        frameAnchor: "bottom", lineAnchor: "top", textAnchor: "middle", dy: 7, fontSize: 16}),
      Plot.text(ROW_LABELS.map((label, row) => ({col: last, row, label})), {fx: "col", fy: "row", text: "label",
        frameAnchor: "right", textAnchor: "middle", lineAnchor: "middle", rotate: 90, dx: g.rowDx, fontSize: 15})
    ]
  });
  svg.style.position = "absolute";
  svg.style.left = "0px";
  svg.style.top = g.top + "px";
  chart.appendChild(svg);

  g.cols.forEach(c => {
    const cx = g.ml + pw * (c + 0.5);
    addDiv(`SFR = ${SFR_LABELS[c]} M<sub>o</sub> yr<sup>-1</sup>`, cx, g.titleY);
  });
  addDiv("Time [Myr]", 316, g.timeY);
  addDiv("Mass loading factor&nbsp;&nbsp;(η)", 25, g.ylabY, "ylab");
  addDiv(g.name, g.nameX, g.nameY, "big");
}

// ---------------- LEGEND ----------------
const leg = d3.create("svg").attr("width", 290).attr("height", 150)
  .style("position", "absolute").style("left", "380px").style("top", "1330px")
  .style("font-family", FONT);
const legItems = [
  {s: "TH planar", y: 33.5, head: "TH", headY: 20, anchor: "middle", hx: 222, side: "η (through", sideY: 35},
  {s: "TH+CR planar", y: 65.5, head: "TH+CR", headY: 54.5, anchor: "start", hx: 191, side: "planar surface)", sideY: 66.5},
  {s: "TH spherical", y: 95.5, head: "TH", headY: 83, anchor: "middle", hx: 222, side: "η (through", sideY: 97},
  {s: "TH+CR spherical", y: 126.5, head: "TH+CR", headY: 115.5, anchor: "start", hx: 191, side: "spherical surface)", sideY: 128}
];
for (const it of legItems) {
  const st = STYLE[it.s];
  leg.append("line").attr("x1", 191).attr("x2", 238).attr("y1", it.y).attr("y2", it.y)
    .attr("stroke", st.stroke).attr("stroke-opacity", st.strokeOpacity ?? 1)
    .attr("stroke-width", st.strokeWidth).attr("stroke-dasharray", st.strokeDasharray ?? null);
  leg.append("text").attr("x", it.hx).attr("y", it.headY).attr("text-anchor", it.anchor)
    .attr("dominant-baseline", "central").style("font-size", "16px").text(it.head);
  leg.append("text").attr("x", 181).attr("y", it.sideY).attr("text-anchor", "end")
    .attr("dominant-baseline", "central").style("font-size", "15px").text(it.side);
}
chart.appendChild(leg.node());
</script></body></html>
